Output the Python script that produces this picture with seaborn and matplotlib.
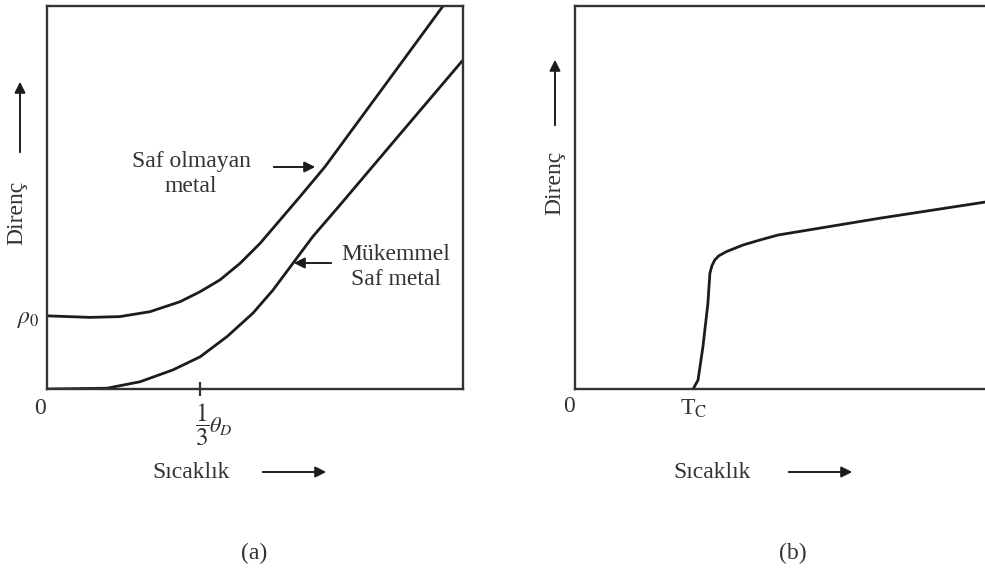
import matplotlib
matplotlib.use("Agg")
import matplotlib.pyplot as plt
import seaborn as sns
import pandas as pd

# === data (arbitrary units, 0..10) ===
# (a) impure metal
T_impure = [0.0, 1.03, 1.75, 2.48, 3.20, 3.68, 4.16, 4.64, 5.12, 5.60, 6.08, 6.68, 8.00, 9.52, 9.69]
R_impure = [1.91, 1.87, 1.89, 2.02, 2.28, 2.54, 2.85, 3.28, 3.80, 4.41, 5.02, 5.80, 7.75, 10.0, 10.26]
# (a) perfect pure metal
T_pure = [0.0, 1.44, 2.24, 3.03, 3.68, 4.33, 4.95, 5.43, 5.91, 6.39, 7.04, 8.49, 10.0]
R_pure = [0.0, 0.02, 0.19, 0.50, 0.84, 1.37, 1.98, 2.58, 3.28, 3.98, 4.80, 6.66, 8.59]
# (b) superconductor
T_sc = [2.88, 3.00, 3.12, 3.24, 3.29, 3.34, 3.41, 3.51, 3.70, 4.10, 4.51, 4.95, 7.44, 10.0]
R_sc = [0.0, 0.23, 1.10, 2.22, 3.02, 3.22, 3.37, 3.48, 3.59, 3.76, 3.89, 4.02, 4.46, 4.88]

theta_tick = 3.68
rho0 = 1.91
Tc = 2.9

df_a1 = pd.DataFrame({"T": T_impure, "R": R_impure})
df_a2 = pd.DataFrame({"T": T_pure, "R": R_pure})
df_b = pd.DataFrame({"T": T_sc, "R": R_sc})

sns.set_theme(style="white")
plt.rcParams["font.family"] = ["Liberation Serif", "DejaVu Serif"]
plt.rcParams["mathtext.fontset"] = "stix"

W, H = 985, 577
fig = plt.figure(figsize=(W / 100, H / 100), dpi=100)


def fx(x, y):
    return (x / W, 1 - y / H)


ink = "#1c1c1c"
txt = "#333333"
fs = 17

ax1 = fig.add_axes([47 / W, 1 - 389 / H, 416 / W, 383 / H])
ax2 = fig.add_axes([575 / W, 1 - 389 / H, 410 / W, 383 / H])

sns.lineplot(data=df_a1, x="T", y="R", ax=ax1, color=ink, lw=2.0, sort=False)
sns.lineplot(data=df_a2, x="T", y="R", ax=ax1, color=ink, lw=2.0, sort=False)
sns.lineplot(data=df_b, x="T", y="R", ax=ax2, color=ink, lw=2.0, sort=False)

for ax in (ax1, ax2):
    ax.set_xlim(0, 10)
    ax.set_ylim(0, 10)
    ax.set_xlabel("")
    ax.set_ylabel("")
    for s in ax.spines.values():
        s.set_color("#333333")
        s.set_linewidth(1.7)
ax2.spines["right"].set_visible(False)

ax1.set_xticks([theta_tick])
ax1.set_xticklabels([""])
ax1.tick_params(axis="x", direction="inout", length=10, width=1.6, color="#333333", bottom=True)
ax1.set_yticks([rho0])
ax1.set_yticklabels([r"$\rho_0$"], fontsize=fs, color=txt)
ax1.tick_params(axis="y", length=0, pad=5, left=True)

ax2.set_xticks([Tc])
ax2.set_xticklabels([r"T$_\mathrm{C}$"], fontsize=fs, color=txt)
ax2.tick_params(axis="x", length=0, pad=6, bottom=True)
ax2.set_yticks([])

# origin labels
fig.text(*fx(40, 408), "0", fontsize=fs, color=txt, ha="center", va="center")
fig.text(*fx(569, 406), "0", fontsize=fs, color=txt, ha="center", va="center")
fig.text(*fx(202, 425), r"$\dfrac{1}{3}$", fontsize=18, color=txt, ha="center", va="center")
fig.text(*fx(209, 426), r"$\theta_D$", fontsize=16, color=txt, ha="left", va="center")

# y axis labels with arrows
fig.text(*fx(17, 213), "Direnç", fontsize=fs, color=txt, rotation=90, ha="center", va="center")
fig.text(*fx(555, 183), "Direnç", fontsize=fs, color=txt, rotation=90, ha="center", va="center")
arrow = dict(arrowstyle="-|>", color=ink, lw=1.4, mutation_scale=16)
fig.add_artist(plt.Annotation("", xy=fx(20, 79), xytext=fx(20, 155),
                              xycoords="figure fraction", arrowprops=arrow))
fig.add_artist(plt.Annotation("", xy=fx(555, 57), xytext=fx(555, 128),
                              xycoords="figure fraction", arrowprops=arrow))

# x axis labels with arrows
fig.text(*fx(191, 472), "Sıcaklık", fontsize=fs, color=txt, ha="center", va="center")
fig.text(*fx(712, 472), "Sıcaklık", fontsize=fs, color=txt, ha="center", va="center")
fig.add_artist(plt.Annotation("", xy=fx(329, 472), xytext=fx(260, 472),
                              xycoords="figure fraction", arrowprops=arrow))
fig.add_artist(plt.Annotation("", xy=fx(855, 472), xytext=fx(786, 472),
                              xycoords="figure fraction", arrowprops=arrow))

# curve annotations
fig.text(*fx(191, 174), "Saf olmayan\nmetal", fontsize=fs, color=txt, ha="center", va="center",
         linespacing=1.2)
fig.add_artist(plt.Annotation("", xy=fx(318, 167), xytext=fx(271, 167),
                              xycoords="figure fraction", arrowprops=arrow))
fig.text(*fx(396, 267), "Mükemmel\nSaf metal", fontsize=fs, color=txt, ha="center", va="center",
         linespacing=1.2)
fig.add_artist(plt.Annotation("", xy=fx(291, 263), xytext=fx(334, 263),
                              xycoords="figure fraction", arrowprops=arrow))

# panel letters
fig.text(*fx(254, 553), "(a)", fontsize=fs, color=txt, ha="center", va="center")
fig.text(*fx(793, 553), "(b)", fontsize=fs, color=txt, ha="center", va="center")

fig.savefig("out.png", dpi=100, facecolor="white")
